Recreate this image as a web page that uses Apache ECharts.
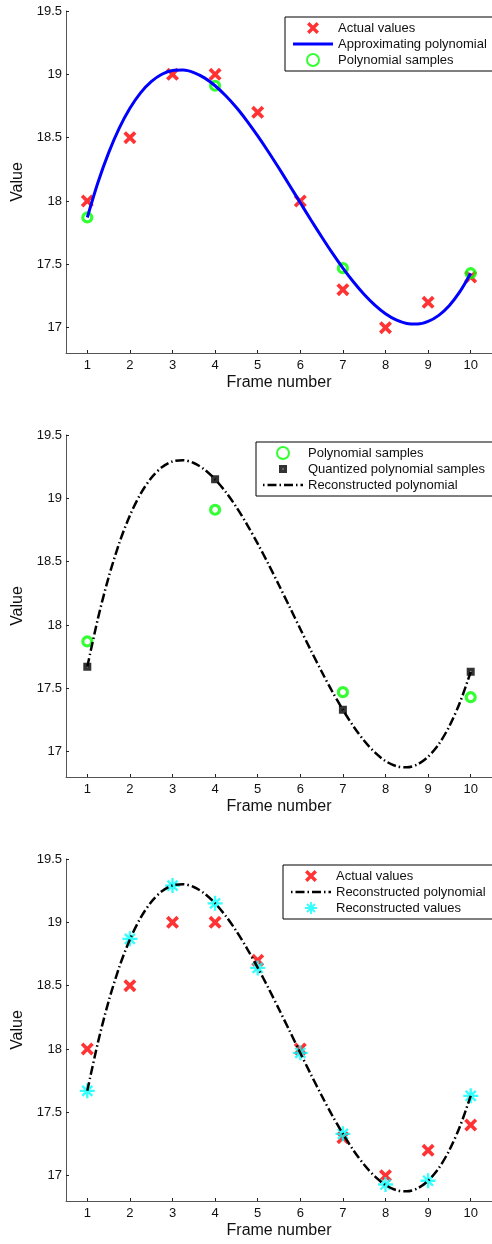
<!DOCTYPE html>
<html>
<head>
<meta charset="utf-8">
<script src="https://cdn.jsdelivr.net/npm/echarts@6/dist/echarts.min.js"></script>
<style>
html,body{margin:0;padding:0;background:#fff;}
#chart{width:492px;height:1244px;}
</style>
</head>
<body>
<div id="chart"></div>
<script>
// ---------- data ----------
const xTicks = [1, 2, 3, 4, 5, 6, 7, 8, 9, 10];
const yTicks = [17, 17.5, 18, 18.5, 19, 19.5];
const frames = [1, 2, 3, 4, 5, 6, 7, 8, 9, 10];
const actualValues = [18.0, 18.5, 19.0, 19.0, 18.7, 18.0, 17.3, 17.0, 17.2, 17.4];
const sampleFrames = [1, 4, 7, 10];
const polySamples = [17.87, 18.91, 17.47, 17.43];
const quantizedSamples = [17.67, 19.15, 17.33, 17.63];
const curveX = [1, 1.25, 1.5, 1.75, 2, 2.25, 2.5, 2.75, 3, 3.25, 3.5, 3.75, 4, 4.25, 4.5, 4.75, 5, 5.25, 5.5,
  5.75, 6, 6.25, 6.5, 6.75, 7, 7.25, 7.5, 7.75, 8, 8.25, 8.5, 8.75, 9, 9.25, 9.5, 9.75, 10];
const approxCurve = [17.87, 18.146, 18.38, 18.575, 18.732, 18.854, 18.942, 19.001, 19.031, 19.034, 19.014,
  18.972, 18.91, 18.831, 18.738, 18.631, 18.514, 18.389, 18.258, 18.123, 17.986, 17.85, 17.718, 17.59, 17.47,
  17.36, 17.262, 17.178, 17.11, 17.061, 17.033, 17.028, 17.049, 17.097, 17.175, 17.286, 17.43];
const reconCurve = [17.67, 18.052, 18.376, 18.646, 18.865, 19.035, 19.161, 19.245, 19.291, 19.301, 19.279,
  19.228, 19.15, 19.05, 18.93, 18.793, 18.642, 18.482, 18.314, 18.142, 17.969, 17.798, 17.633, 17.475, 17.33,
  17.199, 17.086, 16.994, 16.926, 16.886, 16.876, 16.899, 16.96, 17.059, 17.202, 17.391, 17.63];
const reconValues = [17.67, 18.87, 19.29, 19.15, 18.64, 17.97, 17.33, 16.93, 16.96, 17.63];

// ---------- helpers ----------
const zip = (xs, ys) => xs.map((x, i) => [x, ys[i]]);
const FONT = 'Liberation Sans, Arial, Helvetica, sans-serif';
const TXT = '#111';
const X_PATH = 'path://M0,2L2,0L5,3L8,0L10,2L7,5L10,8L8,10L5,7L2,10L0,8L3,5Z';
const STAR_PATH = 'path://M8.6,1L11.4,1L11.4,19L8.6,19Z M1,8.6L19,8.6L19,11.4L1,11.4Z ' +
  'M3.01,4.99L4.99,3.01L16.99,15.01L15.01,16.99Z M15.01,3.01L16.99,4.99L4.99,16.99L3.01,15.01Z';
const SQUARE_PATH = 'path://M0,0M12,12M2,2H10V10H2Z M5.5,5.5V6.5H6.5V5.5Z';
const SOLID_ICON = 'path://M0,0H40V3H0Z';
const DASHDOT_ICON = 'path://M0,0H1.5V2.6H0Z M4.5,0H13.5V2.6H4.5Z M16.5,0H18V2.6H16.5Z M21,0H30V2.6H21Z ' +
  'M33,0H34.5V2.6H33Z M37.5,0H40V2.6H37.5Z';

const tops = [11, 435, 859];
const grids = tops.map(t => ({ left: 66, top: t, width: 434, height: 342 }));

const xAxes = tops.map((t, i) => ({
  type: 'value', gridIndex: i, min: 0.5, max: 10.5,
  axisLine: { show: true, onZero: false, lineStyle: { color: '#555', width: 1 } },
  axisTick: { show: true, inside: true, length: 3, customValues: xTicks, lineStyle: { color: '#222' } },
  axisLabel: { customValues: xTicks, margin: 6, fontSize: 13, color: TXT, fontFamily: FONT },
  splitLine: { show: false },
  name: 'Frame number', nameLocation: 'middle', nameGap: 22,
  nameTextStyle: { fontSize: 16, color: TXT, fontFamily: FONT }
}));
const yAxes = tops.map((t, i) => ({
  type: 'value', gridIndex: i, min: 16.8, max: 19.5,
  axisLine: { show: true, onZero: false, lineStyle: { color: '#555', width: 1 } },
  axisTick: { show: true, inside: true, length: 3, customValues: yTicks, lineStyle: { color: '#222' } },
  axisLabel: { customValues: yTicks, margin: 4, fontSize: 13, color: TXT, fontFamily: FONT },
  splitLine: { show: false },
  name: 'Value', nameLocation: 'middle', nameGap: 38,
  nameTextStyle: { fontSize: 16, color: TXT, fontFamily: FONT }
}));

const actualStyle = (i) => ({
  name: 'Actual values', type: 'scatter', xAxisIndex: i, yAxisIndex: i,
  data: zip(frames, actualValues), symbol: X_PATH, symbolSize: 13,
  itemStyle: { color: '#ff0000' }
});
const samplesStyle = (i) => ({
  name: 'Polynomial samples', type: 'scatter', xAxisIndex: i, yAxisIndex: i,
  data: zip(sampleFrames, polySamples), symbol: 'circle', symbolSize: 9,
  itemStyle: { color: 'rgba(255,255,255,0)', borderColor: '#00ff00', borderWidth: 3.2 }
});
const reconLine = (i) => ({
  name: 'Reconstructed polynomial', type: 'line', xAxisIndex: i, yAxisIndex: i,
  data: zip(curveX, reconCurve), smooth: 0.3, showSymbol: false, symbol: 'none',
  lineStyle: { color: '#000', width: 2.5, type: [9, 3, 1.5, 3] },
  itemStyle: { color: '#000', borderWidth: 0 }
});

const series = [
  actualStyle(0),
  { name: 'Approximating polynomial', type: 'line', xAxisIndex: 0, yAxisIndex: 0,
    data: zip(curveX, approxCurve), smooth: 0.3, showSymbol: false, symbol: 'none',
    lineStyle: { color: '#0000ff', width: 3 }, itemStyle: { color: '#0000ff', borderWidth: 0 } },
  samplesStyle(0),

  samplesStyle(1),
  { name: 'Quantized polynomial samples', type: 'scatter', xAxisIndex: 1, yAxisIndex: 1,
    data: zip(sampleFrames, quantizedSamples), symbol: SQUARE_PATH, symbolSize: 12,
    itemStyle: { color: '#000' } },
  reconLine(1),

  actualStyle(2),
  reconLine(2),
  { name: 'Reconstructed values', type: 'scatter', xAxisIndex: 2, yAxisIndex: 2,
    data: zip(frames, reconValues), symbol: STAR_PATH, symbolSize: 15,
    itemStyle: { color: '#00ffff' } }
];

const legendBase = {
  orient: 'vertical', itemWidth: 40, itemHeight: 12, itemGap: 2,
  borderColor: '#000', borderWidth: 1, backgroundColor: '#fff',
  selectedMode: false, z: 20, symbolKeepAspect: true,
  textStyle: { fontSize: 13, lineHeight: 14, color: TXT, fontFamily: FONT }
};
const legends = [
  Object.assign({}, legendBase, { left: 285, top: 17, padding: [4, 30, 4, 8],
    data: ['Actual values', { name: 'Approximating polynomial', icon: SOLID_ICON }, 'Polynomial samples'] }),
  Object.assign({}, legendBase, { left: 256, top: 442, padding: [4, 30, 4, 7],
    data: ['Polynomial samples', 'Quantized polynomial samples', { name: 'Reconstructed polynomial', icon: DASHDOT_ICON }] }),
  Object.assign({}, legendBase, { left: 283, top: 865, padding: [4, 30, 4, 8],
    data: ['Actual values', { name: 'Reconstructed polynomial', icon: DASHDOT_ICON }, 'Reconstructed values'] })
];

const chart = echarts.init(document.getElementById('chart'), null, { renderer: 'canvas' });
chart.setOption({
  backgroundColor: '#fff',
  animation: false,
  grid: grids,
  xAxis: xAxes,
  yAxis: yAxes,
  legend: legends,
  series: series
});
</script>
</body>
</html>
